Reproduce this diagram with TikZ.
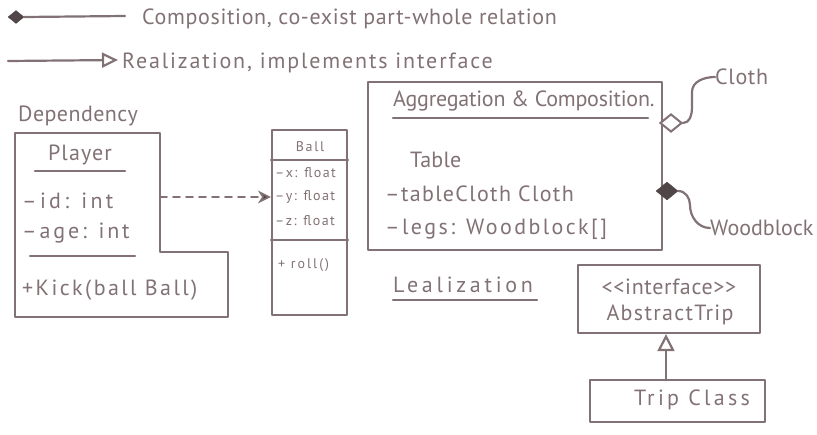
\documentclass[tikz,border=0pt]{standalone}
\usepackage{fontspec}
\setmainfont{PT Sans}
\usetikzlibrary{arrows.meta,shapes.geometric}
\definecolor{ink}{HTML}{827275}
\definecolor{darkink}{HTML}{504648}
\begin{document}
\begin{tikzpicture}[x=1pt,y=-1pt,
  ln/.style={draw=ink,line width=2.2pt,line cap=round,line join=round},
  box/.style={ln,rectangle,inner sep=0pt},
  txt/.style={text=ink,inner sep=0pt,anchor=west,font=\fontsize{22}{26}\selectfont},
  ls/.style={font=\fontsize{22}{26}\selectfont\addfontfeature{LetterSpace=#1}},
  ctxt/.style={txt,anchor=center},
  sm/.style={text=ink,inner sep=0pt,anchor=west,font=\fontsize{14}{16}\selectfont\addfontfeature{LetterSpace=#1}},
  fdia/.style={diamond,fill=darkink,draw=darkink,inner sep=0pt,minimum width=22pt,minimum height=18pt},
  odia/.style={diamond,fill=white,draw=ink,line width=2pt,inner sep=0pt,minimum width=22pt,minimum height=18pt}]
\useasboundingbox[fill=white] (0,0) rectangle (817,434);

% legend
\node[fdia,minimum width=16pt,minimum height=13pt] (ld) at (16,17) {};
\coordinate (le1) at (125,16);
\draw[ln] (ld.east) -- (le1);
\node[txt,ls=3] (lt1) at (142,19) {Composition, co-exist part-whole relation};
\coordinate (ls2) at (8,61);
\coordinate (le2) at (118,60);
\draw[ln,-{Triangle[open,length=16pt,width=15pt]}] (ls2) -- (le2);
\node[txt,ls=8.5] (lt2) at (122,63) {Realization, implements interface};

% dependency
\node[txt,ls=2] (dep) at (18,116) {Dependency};
\coordinate (p1) at (15,133);
\coordinate (p2) at (160,133);
\coordinate (p3) at (160,252);
\coordinate (p4) at (228,252);
\coordinate (p5) at (228,317);
\coordinate (p6) at (15,317);
\draw[ln] (p1) -- (p2) -- (p3) -- (p4) -- (p5) -- (p6) -- cycle;
\node[ctxt,ls=5] (player) at (80,155) {Player};
\draw[ln] (35,171) -- (125,171);
\node[txt,ls=15] (pid) at (22,201) {\textendash id: int};
\node[txt,ls=13] (page) at (22,233) {\textendash age: int};
\draw[ln] (30,256) -- (135,256);
\node[txt,ls=11] (pkick) at (22,290) {+Kick(ball Ball)};

\node[box,minimum width=75pt,minimum height=185pt] (ball) at (309.5,222.5) {};
\draw[ln] (ball.west |- 0,160) -- (ball.east |- 0,160);
\draw[ln] (ball.west |- 0,240) -- (ball.east |- 0,240);
\node[sm=12,anchor=center] (bname) at (310,147) {Ball};
\node[sm=10] (bx) at (275,173) {\textendash x: float};
\node[sm=10] (by) at (275,197) {\textendash y: float};
\node[sm=10] (bz) at (275,221) {\textendash z: float};
\node[sm=14] (broll) at (278,265) {+ roll()};
\coordinate (dp) at (p3 |- 0,197);
\draw[ln,dashed,dash pattern=on 7pt off 6pt,line width=1.6pt,-{Stealth[length=13pt,width=13pt,fill=darkink]}] (dp) -- (ball.west |- dp);

% aggregation
\node[box,minimum width=294pt,minimum height=168pt] (agg) at (515,166) {};
\node[txt,ls=-1] (aggt) at (393,101) {Aggregation \& Composition.};
\draw[ln] (393,118) -- (648,118);
\node[txt,ls=1] (tab) at (410,160) {Table};
\node[txt,ls=6] (tc) at (385,194) {\textendash tableCloth Cloth};
\node[txt,ls=11] (legs) at (385,229) {\textendash legs: Woodblock[]};
\node[odia] (cd) at (671,123) {};
\node[txt,ls=3] (cloth) at (715,77) {Cloth};
\draw[ln] (cd.east) to[out=0,in=-90] (692,108) -- (692,92) to[out=90,in=180] (cloth.west);
\node[fdia] (wd) at (667,191) {};
\node[txt] (wood) at (710,228) {Woodblock};
\draw[ln] (wd.east) to[out=0,in=90] (690,205) to[out=-90,in=180] (wood.west);

% realization
\node[txt,ls=17] (leal) at (393,285) {Lealization};
\draw[ln] (393,300) -- (537,300);
\node[box,minimum width=182pt,minimum height=68pt] (iface) at (669,299) {};
\node[ctxt,ls=3] (ift) at (669,287) {{<}{<}interface{>}{>}};
\node[ctxt,ls=6] (abst) at (670,315) {AbstractTrip};
\node[box,minimum width=175pt,minimum height=42pt] (trip) at (677.5,401) {};
\node[ctxt,ls=15] (tript) at (692,400) {Trip Class};
\draw[ln,-{Triangle[open,length=17pt,width=17pt]}] (trip.north -| 666,0) -- (iface.south -| 666,0);
\end{tikzpicture}
\end{document}
